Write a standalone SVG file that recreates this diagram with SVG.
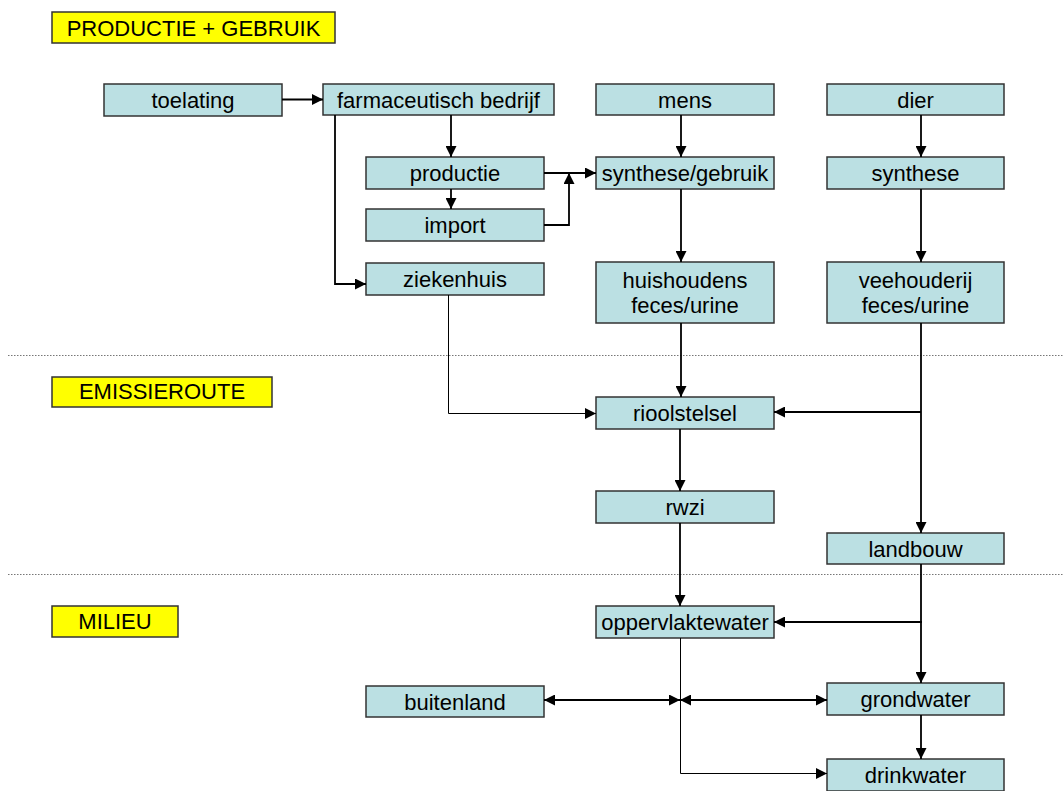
<svg xmlns="http://www.w3.org/2000/svg" width="1064" height="791" viewBox="0 0 1064 791">
<style>
.n{fill:#BBE0E3;stroke:#333;stroke-width:1.5}
.h{fill:#FFFF00;stroke:#333;stroke-width:1.5}
text{font-family:"Liberation Sans",Arial,sans-serif;font-size:22px;fill:#000;text-anchor:middle}
.c{fill:none;stroke:#000;stroke-width:1.8}
.t{fill:none;stroke:#000;stroke-width:1}
.d{stroke:#777;stroke-width:1;stroke-dasharray:1.5 1.5}
</style>
<defs>
<marker id="a" viewBox="0 0 11 11" refX="11" refY="5.5" markerWidth="11" markerHeight="11" markerUnits="userSpaceOnUse" orient="auto-start-reverse"><path d="M0,0L11,5.5L0,11z" fill="#000"/></marker>
</defs>
<rect width="1064" height="791" fill="#fff"/>
<g id="separators">
<line class="d" x1="8" y1="355.5" x2="1064" y2="355.5"/>
<line class="d" x1="8" y1="574.5" x2="1064" y2="574.5"/>
</g>
<g id="hdr1"><rect class="h" x="52" y="12" width="283" height="31"/><text x="193.5" y="35.5">PRODUCTIE + GEBRUIK</text></g>
<g id="hdr2"><rect class="h" x="52" y="377" width="220" height="30"/><text x="162" y="399">EMISSIEROUTE</text></g>
<g id="hdr3"><rect class="h" x="52" y="606" width="126" height="31"/><text x="115" y="629">MILIEU</text></g>
<g id="toelating"><rect class="n" x="104" y="84" width="178" height="32"/><text x="193" y="108">toelating</text></g>
<g id="farmaceutisch"><rect class="n" x="323" y="84" width="231" height="31"/><text x="438.5" y="107.5">farmaceutisch bedrijf</text></g>
<g id="productie"><rect class="n" x="366" y="157" width="178" height="32"/><text x="455" y="181">productie</text></g>
<g id="import"><rect class="n" x="366" y="209" width="178" height="32"/><text x="455" y="233">import</text></g>
<g id="ziekenhuis"><rect class="n" x="366" y="263" width="178" height="32"/><text x="455" y="287">ziekenhuis</text></g>
<g id="mens"><rect class="n" x="596" y="84" width="178" height="31"/><text x="685" y="107.5">mens</text></g>
<g id="synthese-gebruik"><rect class="n" x="596" y="157" width="178" height="32"/><text x="685" y="181">synthese/gebruik</text></g>
<g id="huishoudens"><rect class="n" x="596" y="262" width="178" height="61"/><text x="685" y="288">huishoudens</text><text x="685" y="313">feces/urine</text></g>
<g id="dier"><rect class="n" x="827" y="84" width="177" height="31"/><text x="915.5" y="107.5">dier</text></g>
<g id="synthese"><rect class="n" x="827" y="157" width="177" height="32"/><text x="915.5" y="181">synthese</text></g>
<g id="veehouderij"><rect class="n" x="827" y="262" width="177" height="61"/><text x="915.5" y="288">veehouderij</text><text x="915.5" y="313">feces/urine</text></g>
<g id="rioolstelsel"><rect class="n" x="596" y="397" width="178" height="32"/><text x="685" y="421">rioolstelsel</text></g>
<g id="rwzi"><rect class="n" x="596" y="491" width="178" height="32"/><text x="685" y="515">rwzi</text></g>
<g id="landbouw"><rect class="n" x="827" y="533" width="177" height="31"/><text x="915.5" y="556.5">landbouw</text></g>
<g id="oppervlaktewater"><rect class="n" x="596" y="606" width="178" height="32"/><text x="685" y="630">oppervlaktewater</text></g>
<g id="buitenland"><rect class="n" x="366" y="686" width="178" height="31"/><text x="455" y="709.5">buitenland</text></g>
<g id="grondwater"><rect class="n" x="827" y="683" width="177" height="32"/><text x="915.5" y="707">grondwater</text></g>
<g id="drinkwater"><rect class="n" x="827" y="759" width="177" height="32"/><text x="915.5" y="783">drinkwater</text></g>
<g id="connectors">
<path class="c" d="M282,99.5H323" marker-end="url(#a)"/>
<path class="c" d="M451,115V157" marker-end="url(#a)"/>
<path class="c" d="M335,115V284H366" marker-end="url(#a)"/>
<path class="c" d="M451,189V209" marker-end="url(#a)"/>
<path class="c" d="M544,173H596" marker-end="url(#a)"/>
<path class="c" d="M544,225H569V173" marker-end="url(#a)"/>
<path class="c" d="M681,115V157" marker-end="url(#a)"/>
<path class="c" d="M681,189V262" marker-end="url(#a)"/>
<path class="c" d="M681,323V397" marker-end="url(#a)"/>
<path class="c" d="M921,115V157" marker-end="url(#a)"/>
<path class="c" d="M921,189V262" marker-end="url(#a)"/>
<path class="c" d="M921,323V533" marker-end="url(#a)"/>
<path class="c" d="M921,412H774" marker-end="url(#a)"/>
<path class="t" d="M448.5,295V413.5H596" marker-end="url(#a)"/>
<path class="c" d="M680,429V491" marker-end="url(#a)"/>
<path class="c" d="M680,523V606" marker-end="url(#a)"/>
<path class="c" d="M921,564V683" marker-end="url(#a)"/>
<path class="c" d="M922,622H774" marker-end="url(#a)"/>
<path class="t" d="M680.5,638V773.5H827" marker-end="url(#a)"/>
<path class="c" d="M544,700H680" marker-start="url(#a)" marker-end="url(#a)"/>
<path class="c" d="M680,700H827" marker-start="url(#a)" marker-end="url(#a)"/>
<path class="c" d="M921,715V759" marker-end="url(#a)"/>
</g>
</svg>
